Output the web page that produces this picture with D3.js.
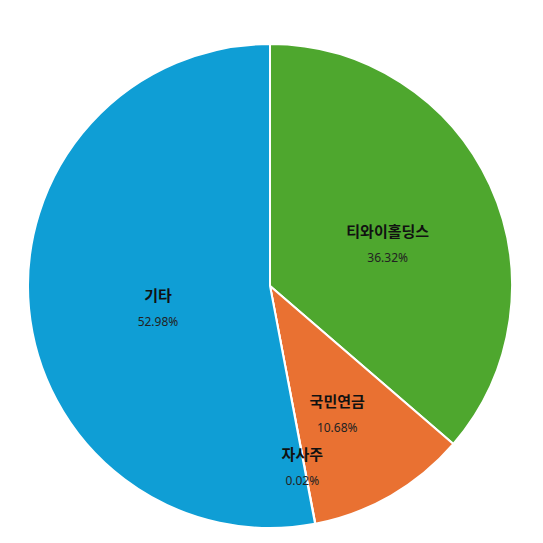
<!DOCTYPE html>
<html>
<head>
<meta charset="utf-8">
<script src="https://cdn.jsdelivr.net/npm/d3@7"></script>
<style>
  html, body { margin: 0; padding: 0; background: #fff; }
  svg { display: block; }
</style>
</head>
<body>
<svg id="chart" width="543" height="543"></svg>
<script>
const names = ["티와이홀딩스", "국민연금", "자사주", "기타"];
const shares = [36.32, 10.68, 0.02, 52.98];
const colors = ["#4EA72E", "#E97132", "#0F9ED5", "#0F9ED5"];

const w = 543, h = 543;
const cx = 270, cy = 286, radius = 242;

const svg = d3.select("#chart");
const g = svg.append("g").attr("transform", `translate(${cx},${cy})`);

const pie = d3.pie().sort(null).value(d => d.value);
const data = pie(names.map((n, i) => ({ name: n, value: shares[i], color: colors[i] })));

const arc = d3.arc().innerRadius(0).outerRadius(radius);

g.selectAll("path.slice")
  .data(data)
  .join("path")
  .attr("class", "slice")
  .attr("d", arc)
  .attr("fill", d => d.data.color)
  .attr("stroke", "#fff")
  .attr("stroke-width", 2);

// narrower slices get their labels pushed further out
const labelPos = d3.scaleLinear()
  .domain([0, 10.68, 36.32, 52.98])
  .range([0.715, 0.555, 0.535, 0.465])
  .clamp(true);

const labels = g.selectAll("g.label")
  .data(data)
  .join("g")
  .attr("class", "label")
  .attr("transform", d => {
    const r = radius * labelPos(d.data.value);
    const a = (d.startAngle + d.endAngle) / 2;
    return `translate(${r * Math.sin(a)},${-r * Math.cos(a)})`;
  });

labels.append("text")
  .attr("text-anchor", "middle")
  .attr("dominant-baseline", "central")
  .attr("y", -2)
  .attr("font-family", "'Noto Sans CJK KR', 'Noto Sans', sans-serif")
  .attr("font-size", 15)
  .attr("font-weight", "bold")
  .attr("fill", "#111")
  .text(d => d.data.name);

labels.append("text")
  .attr("text-anchor", "middle")
  .attr("dominant-baseline", "central")
  .attr("y", 25)
  .attr("font-family", "'Noto Sans', 'DejaVu Sans', sans-serif")
  .attr("font-size", 12)
  .attr("fill", "#222")
  .text(d => d3.format(".2f")(d.data.value) + "%");
</script>
</body>
</html>
